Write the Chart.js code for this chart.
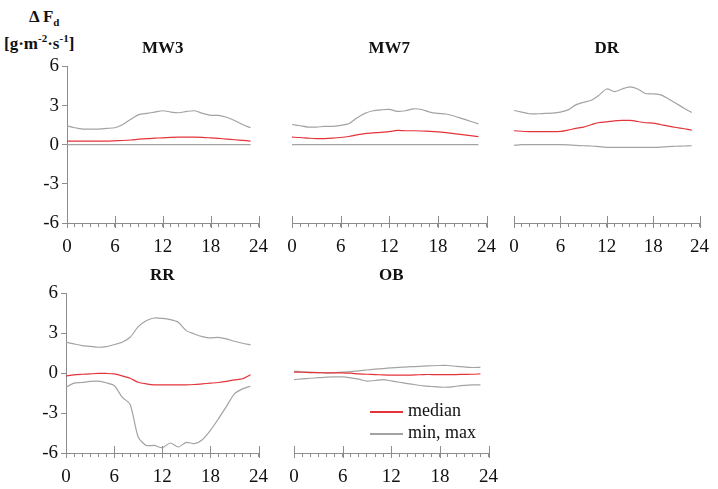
<!DOCTYPE html>
<html>
<head>
<meta charset="utf-8">
<script src="https://cdn.jsdelivr.net/npm/chart.js@4.4.0/dist/chart.umd.min.js"></script>
<style>
  body { margin: 0; background: #fff; }
  #wrap { position: relative; width: 718px; height: 489px; overflow: hidden; font-family: 'Liberation Serif', serif; }
  canvas { position: absolute; }
  .ytitle { position: absolute; font-weight: bold; font-size: 17px; color: #111; white-space: nowrap; }
  .ytitle sub, .ytitle sup { font-size: 11px; }
  .leg { position: absolute; font-size: 18px; color: #111; white-space: nowrap; }
  .leg span { display: inline-block; width: 33px; height: 1.4px; vertical-align: middle; margin-right: 5px; }
</style>
</head>
<body>
<div id="wrap">
  <div class="ytitle" style="left:29px; top:7px;">&Delta; F<sub>d</sub></div>
  <div class="ytitle" style="left:4px; top:32px;">[g&middot;m<sup>-2</sup>&middot;s<sup>-1</sup>]</div>
</div>
<script>
// hours of the day
var hours = [0,1,2,3,4,5,6,7,8,9,10,11,12,13,14,15,16,17,18,19,20,21,22,23];
var xTicks = [0, 6, 12, 18, 24];
var yTicks = [-6, -3, 0, 3, 6];
var panelNames = ['MW3', 'MW7', 'DR', 'RR', 'OB'];
var legendLabels = ['median', 'min, max'];

// MW3
var mw3Median = [0.28,0.28,0.28,0.28,0.28,0.28,0.3,0.32,0.36,0.42,0.47,0.5,0.53,0.56,0.58,0.58,0.58,0.56,0.52,0.48,0.43,0.38,0.33,0.28];
var mw3Min = [0,0,0,0,0,0,0,0,0,0,0,0,0,0,0,0,0,0,0,0,0,0,0,0];
var mw3Max = [1.45,1.3,1.2,1.2,1.2,1.25,1.3,1.55,1.95,2.3,2.4,2.5,2.6,2.5,2.45,2.55,2.6,2.4,2.25,2.25,2.1,1.85,1.55,1.3];

// MW7
var mw7Median = [0.58,0.55,0.5,0.46,0.47,0.5,0.55,0.63,0.75,0.85,0.9,0.95,1.0,1.1,1.07,1.07,1.05,1.02,0.98,0.92,0.85,0.77,0.7,0.62];
var mw7Min = [0,0,0,0,0,0,0,0,0,0,0,0,0,0,0,0,0,0,0,0,0,0,0,0];
var mw7Max = [1.55,1.45,1.35,1.35,1.4,1.4,1.48,1.6,2.05,2.4,2.6,2.67,2.7,2.55,2.6,2.75,2.7,2.5,2.4,2.35,2.2,2.0,1.8,1.6];

// DR
var drMedian = [1.07,1.03,1.0,1.0,1.0,1.0,1.02,1.12,1.25,1.35,1.53,1.7,1.75,1.83,1.86,1.86,1.78,1.68,1.65,1.53,1.42,1.32,1.22,1.12];
var drMin = [-0.05,0,0,0,0,0,0,-0.02,-0.05,-0.08,-0.1,-0.15,-0.2,-0.2,-0.2,-0.2,-0.2,-0.2,-0.2,-0.18,-0.15,-0.12,-0.1,-0.08];
var drMax = [2.62,2.5,2.37,2.37,2.4,2.42,2.5,2.67,3.05,3.25,3.4,3.8,4.27,4.07,4.27,4.43,4.27,3.92,3.9,3.82,3.5,3.15,2.8,2.47];

// RR
var rrMedian = [-0.2,-0.12,-0.08,-0.05,-0.02,-0.02,-0.05,-0.2,-0.38,-0.68,-0.8,-0.88,-0.88,-0.88,-0.88,-0.88,-0.85,-0.8,-0.75,-0.7,-0.62,-0.5,-0.42,-0.12];
var rrMin = [-1.05,-0.75,-0.7,-0.62,-0.6,-0.72,-0.93,-1.8,-2.35,-4.8,-5.43,-5.43,-5.6,-5.25,-5.55,-5.2,-5.3,-5.0,-4.3,-3.43,-2.5,-1.55,-1.18,-0.98];
var rrMax = [2.33,2.2,2.08,2.02,1.95,2.0,2.15,2.33,2.7,3.5,3.95,4.15,4.12,4.03,3.83,3.2,2.95,2.75,2.65,2.7,2.58,2.4,2.25,2.13];

// OB
var obMedian = [0.08,0.07,0.05,0.04,0.03,0.03,0.03,0.0,-0.05,-0.08,-0.1,-0.13,-0.15,-0.15,-0.15,-0.13,-0.1,-0.1,-0.1,-0.1,-0.1,-0.09,-0.08,-0.05];
var obMin = [-0.48,-0.43,-0.38,-0.34,-0.3,-0.28,-0.28,-0.35,-0.45,-0.6,-0.55,-0.48,-0.58,-0.68,-0.78,-0.87,-0.95,-1.0,-1.05,-1.05,-0.98,-0.92,-0.88,-0.88];
var obMax = [0.15,0.1,0.08,0.05,0.03,0.05,0.08,0.12,0.18,0.24,0.3,0.35,0.4,0.44,0.48,0.5,0.53,0.56,0.58,0.58,0.52,0.47,0.43,0.44];

var RED = '#e3343a';
var GREY = '#a3a3a3';
var AXIS = '#8c8c8c';
var TXT = '#111';
var FONT = "'Liberation Serif', serif";

// major ticks cross the x axis line
var majorTicks = {
    id: 'majorTicks',
    afterDraw: function (chart) {
        var xs = chart.scales.x;
        var ctx = chart.ctx;
        ctx.save();
        ctx.strokeStyle = AXIS;
        ctx.lineWidth = 1;
        xTicks.forEach(function (v) {
            var px = Math.round(xs.getPixelForValue(v)) + 0.5;
            ctx.beginPath();
            ctx.moveTo(px, xs.top - 7);
            ctx.lineTo(px, xs.top + 5);
            ctx.stroke();
        });
        ctx.restore();
    }
};

function makePanel(idx, L, T, R, B, showY, median, min, max) {
    var padL = 14, padR = 14, padT = 4;
    var titleH = 17 * 1.2 + 8;
    var yw = showY ? 40 : 0;
    var xh = 34;
    var canvas = document.createElement('canvas');
    var w = (R - L) + padL + padR + yw;
    var h = (B - T) + padT + titleH + xh;
    canvas.width = w;
    canvas.height = h;
    canvas.style.left = (L - padL - yw) + 'px';
    canvas.style.top = (T - padT - titleH) + 'px';
    canvas.style.width = w + 'px';
    canvas.style.height = h + 'px';
    document.getElementById('wrap').appendChild(canvas);

    var line = function (data, color) {
        return {
            data: data,
            borderColor: color,
            borderWidth: 1.2,
            pointRadius: 0,
            fill: false,
            tension: 0.25
        };
    };

    new Chart(canvas.getContext('2d'), {
        type: 'line',
        data: {
            labels: hours,
            datasets: [line(median, RED), line(min, GREY), line(max, GREY)]
        },
        options: {
            responsive: false,
            animation: false,
            layout: { padding: { left: padL, right: padR, top: padT, bottom: 0 } },
            plugins: {
                legend: { display: false },
                tooltip: { enabled: false },
                title: {
                    display: true,
                    text: panelNames[idx],
                    fullSize: false,
                    color: TXT,
                    font: { family: FONT, size: 17, weight: 'bold', lineHeight: 1.2 },
                    padding: { top: 0, bottom: 8 }
                }
            },
            scales: {
                x: {
                    type: 'linear',
                    min: 0,
                    max: 24,
                    afterFit: function (s) { s.height = xh; },
                    border: { display: true, color: AXIS, width: 1 },
                    grid: { drawOnChartArea: false, drawTicks: true, tickLength: 4, color: AXIS },
                    ticks: {
                        stepSize: 1,
                        autoSkip: false,
                        maxRotation: 0,
                        padding: 9,
                        color: TXT,
                        font: { family: FONT, size: 19 },
                        callback: function (v) { return xTicks.indexOf(v) >= 0 ? String(v) : ''; }
                    }
                },
                y: {
                    display: showY,
                    min: -6,
                    max: 6,
                    afterFit: function (s) { s.width = yw; },
                    afterBuildTicks: function (s) { s.ticks = yTicks.map(function (v) { return { value: v }; }); },
                    border: { display: true, color: AXIS, width: 1 },
                    grid: { drawOnChartArea: false, drawTicks: true, tickLength: 5, color: AXIS },
                    ticks: {
                        padding: 3,
                        color: TXT,
                        font: { family: FONT, size: 19 }
                    }
                }
            }
        },
        plugins: [majorTicks]
    });
}

makePanel(0, 67, 66, 263, 223, true, mw3Median, mw3Min, mw3Max);
makePanel(1, 292, 66, 491, 223, false, mw7Median, mw7Min, mw7Max);
makePanel(2, 514, 66, 704, 223, false, drMedian, drMin, drMax);
makePanel(3, 66, 293, 263, 453, true, rrMedian, rrMin, rrMax);
makePanel(4, 294, 293, 493, 453, false, obMedian, obMin, obMax);

// legend inside the OB panel
var legColors = [RED, GREY];
var legTops = [400, 422];
legendLabels.forEach(function (txt, i) {
    var d = document.createElement('div');
    d.className = 'leg';
    d.style.left = '370px';
    d.style.top = legTops[i] + 'px';
    var sw = document.createElement('span');
    sw.style.backgroundColor = legColors[i];
    d.appendChild(sw);
    d.appendChild(document.createTextNode(txt));
    document.getElementById('wrap').appendChild(d);
});
</script>
</body>
</html>
